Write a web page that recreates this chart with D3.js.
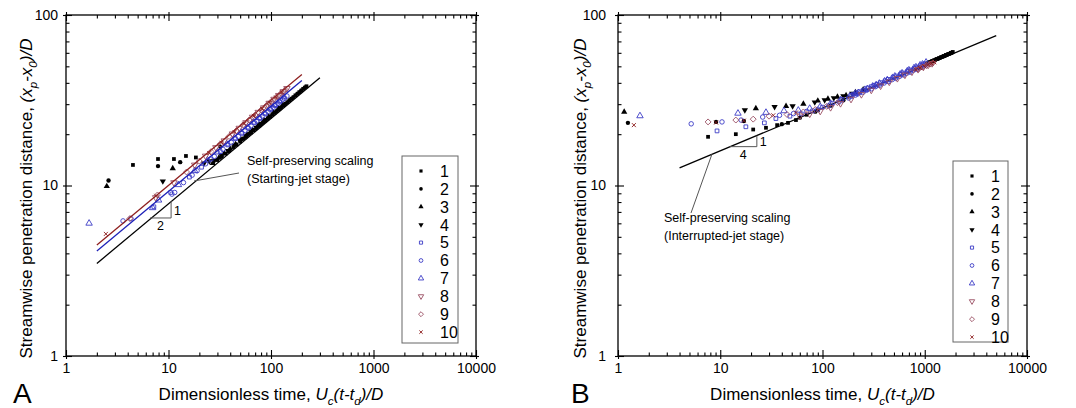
<!DOCTYPE html>
<html>
<head>
<meta charset="utf-8">
<script src="https://cdn.jsdelivr.net/npm/d3@7"></script>
<style>
  body{ margin:0; background:#fff; }
  svg{ display:block; }
  text{ font-family:"Liberation Sans", Arial, Helvetica, sans-serif; fill:#000; }
</style>
</head>
<body>
<svg id="chart" width="1076" height="408"></svg>
<script>
/* ---------- data ---------- */
const LEGEND_LABELS = ["1","2","3","4","5","6","7","8","9","10"];
const X_TICKS = [1, 10, 100, 1000, 10000];
const Y_TICKS = [1, 10, 100];

// Panel A (starting-jet stage) : [time, distance]
const A1 = [[4.5,13.2],[7.9,14.3],[11.3,14.3],[14.8,14.9],[18.5,14.6],[30,14.1],[36,15.4],[43,16.8],[50,18.1],[57,19.4],[64,20.5],[72,21.8],[80,23.0],[89,24.2],[98,25.4],[108,26.7],[119,28.0],[131,29.4],[144,30.8],[158,32.3],[173,33.8],[189,35.3],[206,36.9],[222,38.2]];
const A2 = [[2.6,10.7],[7.9,13.0],[13.0,13.7],[32,16.9],[33,14.8],[39,16.0],[46,17.4],[54,18.9],[61,20.1],[68,21.2],[76,22.4],[84,23.5],[93,24.8],[103,26.1],[113,27.3],[125,28.7],[137,30.1],[151,31.6],[165,33.0],[181,34.6],[197,36.1],[214,37.6]];
const A3 = [[2.5,9.9],[11.0,12.6],[27,13.5],[31,14.5],[35,15.4],[40,16.4],[45,17.4],[51,18.6],[58,19.8],[66,21.1],[75,22.5],[85,24.0],[95,25.3],[106,26.8],[118,28.2],[130,29.6]];
const A4 = [[8.8,10.6],[22.2,13.5],[25,13.9],[28,14.0],[33,15.0],[38,16.0],[44,17.2],[50,18.3],[57,19.5],[64,20.7],[72,21.9],[80,23.1],[89,24.3]];
const A5 = [[7.2,7.5],[10.5,9.1],[16,11.2],[21,12.8],[26,14.3],[32,15.8],[38,17.3],[45,18.8],[52,20.2],[60,21.7],[69,23.3],[78,24.7],[88,26.3],[99,27.9],[110,29.4],[122,30.9],[135,32.5]];
const A6 = [[3.6,6.2],[4.3,6.4],[10.8,8.9],[11.5,9.1],[14,10.4],[17,11.5],[19,12.2],[23,13.4],[28,14.8],[34,16.3],[41,17.9],[48,19.4],[56,21.0],[64,22.4],[73,23.9],[83,25.5],[94,27.2],[105,28.7],[117,30.3],[130,31.9],[143,33.5]];
const A7 = [[1.68,6.0],[7.0,7.4],[8.0,8.2],[12.5,10.1],[18,12.2],[24,14.1],[30,15.7],[37,17.5],[44,19.0],[51,20.5],[59,22.0],[67,23.5],[76,25.0],[86,26.6],[97,28.3],[108,29.8],[120,31.4],[133,33.1]];
const A8 = [[7.5,8.5],[11.3,10.4],[18,13.2],[23,14.9],[29,16.7],[35,18.3],[42,20.1],[49,21.7],[57,23.4],[66,25.2],[75,26.9],[85,28.6],[96,30.4],[107,32.1],[119,33.8],[132,35.6],[143,37.1]];
const A9 = [[4.2,6.4],[7.8,8.8],[15,12.0],[20,13.9],[26,15.8],[32,17.5],[39,19.4],[46,21.0],[53,22.6],[61,24.2],[70,25.9],[80,27.7],[90,29.4],[101,31.2],[113,33.0],[125,34.7],[138,36.4]];
const A10 = [[2.45,5.2],[7.6,8.7],[25,15.5],[33,17.8],[44,20.6],[55,23.0],[68,25.6],[82,28.1],[97,30.5],[112,32.8],[128,35.1]];
const A_FIT_BLACK = [[2,3.49],[300,42.8]];
const A_FIT_BLUE  = [[2,4.13],[200,41.3]];
const A_FIT_RED   = [[2,4.48],[200,44.8]];
const A_SLOPE = [[6.6,6.45],[10.6,6.45],[10.6,8.1]];

// Panel B (interrupted-jet stage)
const B1 = [[7.6,19.3],[14.2,20.0],[21,21.3],[28,21.8],[36,22.6],[46,23.3],[55,24.2],[70,26.0],[90,27.6],[1100,52.8],[1170,53.6],[1240,54.4],[1310,55.2],[1380,55.9],[1450,56.7],[1530,57.5],[1610,58.3],[1700,59.1],[1800,60.0],[1880,60.7]];
const B2 = [[1.25,23.3],[9.1,23.6],[17,23.9],[40,22.9],[60,25.0],[85,27.1],[120,29.4],[160,31.6],[1050,52.0],[1120,52.9],[1190,53.7],[1270,54.6],[1350,55.4],[1420,56.1],[1500,56.9],[1580,57.7],[1660,58.5],[1750,59.3],[1840,60.1]];
const B3 = [[1.15,27.0],[22.3,28.3],[44,29.2],[65,30.1],[90,31.4],[113,32.2],[140,33.1],[170,33.8],[210,35.2],[250,36.5]];
const B4 = [[17.4,27.7],[34,28.9],[51,29.2],[84,30.8],[105,31.7],[129,32.6],[160,33.5],[195,34.6]];
const B5 = [[9.3,20.9],[17.8,22.1],[27,23.3],[35,24.7],[48,25.5],[62,26.3],[80,27.4],[100,28.8],[125,30.4],[155,32.0],[190,33.8],[200,34.3],[215,34.9],[230,35.5],[250,36.2],[280,37.3],[300,38.0],[320,38.6],[340,39.2],[370,40.1],[410,41.1],[440,41.9],[490,43.0],[530,43.9],[580,44.9],[620,45.7],[680,46.8],[730,47.6],[790,48.6],[850,49.5],[910,50.5],[960,51.1],[1000,51.8]];
const B6 = [[5.2,23.0],[10.4,23.6],[16,24.2],[26,25.2],[38,25.8],[52,26.4],[70,27.2],[90,28.0],[115,29.3],[145,30.9],[180,32.6],[210,33.9],[220,34.4],[250,35.3],[270,36.2],[300,36.9],[330,38.0],[360,38.7],[400,39.9],[440,40.7],[480,41.8],[520,42.5],[570,43.7],[620,44.5],[670,45.6],[720,46.2],[780,47.5],[840,48.1],[900,49.3],[960,49.8],[1010,50.8]];
const B7 = [[1.64,25.6],[14.9,26.5],[28,26.8],[42,27.4],[58,27.6],[75,28.3],[95,29.0],[120,30.2],[150,31.7],[185,33.3],[210,34.7],[225,35.0],[260,36.5],[275,36.9],[310,38.2],[335,38.9],[360,39.7],[405,40.9],[430,41.6],[485,42.9],[510,43.7],[575,44.9],[600,45.6],[675,46.9],[700,47.5],[785,48.9],[820,49.5],[900,50.8],[950,51.4],[1030,52.8]];
const B8 = [[60,25.6],[75,26.3],[95,27.3],[120,28.7],[150,30.3],[190,32.1],[240,34.2],[300,36.3],[370,38.4],[450,40.5],[540,42.5],[640,44.5],[750,46.4],[860,48.0],[970,49.5],[1080,50.9],[1180,52.0]];
const B9 = [[7.6,23.6],[14.2,24.2],[21,24.5],[30,25.5],[45,26.1],[65,27.0],[85,27.9],[110,29.1],[140,30.6],[880,48.5],[960,49.6],[1040,50.6],[1120,51.5],[1200,52.4]];
const B10 = [[1.43,22.6],[9.1,23.4],[17,24.0],[33,25.8],[55,26.8],[820,47.8],[900,48.9],[990,50.0],[1080,51.1],[1160,52.0],[1240,52.8]];
const B_FIT_BLACK = [[4,12.7],[5000,75.7]];
const B_SLOPE = [[12.4,16.9],[22.8,16.9],[22.8,19.6]];

/* ---------- styles ---------- */
const BLUE = "#3c3cc6", MAUVE = "#9a4e62", DARKRED = "#8b1a1a";
const symTimes = { draw(ctx, size){ const r = Math.sqrt(size)/2;
  ctx.moveTo(-r,-r); ctx.lineTo(r,r); ctx.moveTo(r,-r); ctx.lineTo(-r,r); } };
const symDiamond = { draw(ctx, size){ const r = Math.sqrt(size/2)*1.05;
  ctx.moveTo(0,-r); ctx.lineTo(r,0); ctx.lineTo(0,r); ctx.lineTo(-r,0); ctx.closePath(); } };
const STYLE = [
  { type:d3.symbolSquare,   size:14, fill:"#000", stroke:"none" },
  { type:d3.symbolCircle,   size:15, fill:"#000", stroke:"none" },
  { type:d3.symbolTriangle, size:17, fill:"#000", stroke:"none" },
  { type:d3.symbolTriangle, size:17, fill:"#000", stroke:"none", rot:180 },
  { type:d3.symbolSquare,   size:14, fill:"none", stroke:BLUE },
  { type:d3.symbolCircle,   size:16, fill:"none", stroke:BLUE },
  { type:d3.symbolTriangle, size:18, fill:"none", stroke:BLUE },
  { type:d3.symbolTriangle, size:18, fill:"none", stroke:MAUVE, rot:180 },
  { type:symDiamond,        size:16, fill:"none", stroke:MAUVE },
  { type:symTimes,          size:16, fill:"none", stroke:DARKRED }
];

const PANELS = [
  { letter:"A", left:66, top:15, w:410, h:341, labelGap:8, titleX:32, letterX:13,
    series:[A1,A2,A3,A4,A5,A6,A7,A8,A9,A10],
    fits:[{d:A_FIT_BLACK,c:"#000"},{d:A_FIT_BLUE,c:"#1f22b8"},{d:A_FIT_RED,c:"#8e1f1f"}],
    linesOnTop:true, slope:A_SLOPE, slopeLabels:["1","2"],
    note:{ x:181, y:150, lead:[[128,166],[173,158]], lines:["Self-preserving scaling","(Starting-jet stage)"] },
    legend:{ x:336, y:141, w:56, h:187 } },
  { letter:"B", left:618, top:15, w:409, h:341, labelGap:12, titleX:586, letterX:571,
    series:[B1,B2,B3,B4,B5,B6,B7,B8,B9,B10],
    fits:[{d:B_FIT_BLACK,c:"#000"}],
    linesOnTop:false, slope:B_SLOPE, slopeLabels:["1","4"],
    note:{ x:46, y:207, lead:[[94,139],[73,198]], lines:["Self-preserving scaling","(Interrupted-jet stage)"] },
    legend:{ x:335, y:146, w:55, h:181 } }
];

const svg = d3.select("#chart");

function mathText(sel, parts, size){
  parts.forEach(p => {
    const t = sel.append("tspan").text(p.t);
    if(p.it) t.attr("font-style","italic");
    if(p.sub) t.attr("font-size", size*0.68).attr("dy", size*0.28);
    if(p.up) t.attr("dy", -size*0.28);
  });
}

function drawMarker(g, st, x, y, scale=1){
  g.append("path")
    .attr("d", d3.symbol().type(st.type).size(st.size*scale)())
    .attr("transform", `translate(${x},${y})` + (st.rot ? ` rotate(${st.rot})` : ""))
    .attr("fill", st.fill).attr("stroke", st.stroke).attr("stroke-width", st.stroke==="none"?0:0.9);
}

PANELS.forEach(P => {
  const x = d3.scaleLog().domain([1,10000]).range([0,P.w]);
  const y = d3.scaleLog().domain([1,100]).range([P.h,0]);
  const g = svg.append("g").attr("transform",`translate(${P.left},${P.top})`);

  const minorX = [], minorY = [];
  for(let d=1; d<10000; d*=10) for(let k=2;k<10;k++) minorX.push(d*k);
  for(let d=1; d<100; d*=10) for(let k=2;k<10;k++) minorY.push(d*k);

  const axes = g.append("g");
  const styleAxis = a => { a.select(".domain").remove(); a.selectAll("line").attr("stroke","#000").attr("stroke-width",1.1); };

  // bottom
  axes.append("g").attr("transform",`translate(0,${P.h})`)
    .call(d3.axisBottom(x).tickValues(X_TICKS).tickFormat(d3.format("d")).tickSizeInner(-6).tickSizeOuter(0).tickPadding(7))
    .call(styleAxis)
    .call(a => a.selectAll("text").attr("font-size",14).attr("font-family",null));
  axes.append("g").attr("transform",`translate(0,${P.h})`)
    .call(d3.axisBottom(x).tickValues(X_TICKS).tickFormat("").tickSize(3)).call(styleAxis);
  axes.append("g").attr("transform",`translate(0,${P.h})`)
    .call(d3.axisBottom(x).tickValues(minorX).tickFormat("").tickSize(-3.5)).call(styleAxis);
  // top
  axes.append("g").call(d3.axisTop(x).tickValues(X_TICKS).tickFormat("").tickSizeInner(-6).tickSizeOuter(0)).call(styleAxis);
  axes.append("g").call(d3.axisTop(x).tickValues(X_TICKS).tickFormat("").tickSize(3)).call(styleAxis);
  axes.append("g").call(d3.axisTop(x).tickValues(minorX).tickFormat("").tickSize(-3.5)).call(styleAxis);
  // left
  axes.append("g")
    .call(d3.axisLeft(y).tickValues(Y_TICKS).tickFormat(d3.format("d")).tickSizeInner(-6).tickSizeOuter(0).tickPadding(P.labelGap))
    .call(styleAxis)
    .call(a => a.selectAll("text").attr("font-size",14).attr("font-family",null));
  axes.append("g").call(d3.axisLeft(y).tickValues(Y_TICKS).tickFormat("").tickSize(3)).call(styleAxis);
  axes.append("g").call(d3.axisLeft(y).tickValues(minorY).tickFormat("").tickSize(-3.5)).call(styleAxis);
  // right
  axes.append("g").attr("transform",`translate(${P.w},0)`)
    .call(d3.axisRight(y).tickValues(Y_TICKS).tickFormat("").tickSizeInner(-6).tickSizeOuter(0)).call(styleAxis);
  axes.append("g").attr("transform",`translate(${P.w},0)`)
    .call(d3.axisRight(y).tickValues(Y_TICKS).tickFormat("").tickSize(3)).call(styleAxis);
  axes.append("g").attr("transform",`translate(${P.w},0)`)
    .call(d3.axisRight(y).tickValues(minorY).tickFormat("").tickSize(-3.5)).call(styleAxis);

  g.append("rect").attr("width",P.w).attr("height",P.h)
    .attr("fill","none").attr("stroke","#000").attr("stroke-width",1.3);

  const line = d3.line().x(d => x(d[0])).y(d => y(d[1]));
  const drawFits = () => P.fits.forEach(f => {
    g.append("path").attr("d", line(f.d)).attr("fill","none")
      .attr("stroke", f.c).attr("stroke-width", 1.3);
  });

  if(!P.linesOnTop) drawFits();
  const pts = g.append("g");
  P.series.forEach((s, i) => s.forEach(d => drawMarker(pts, STYLE[i], x(d[0]), y(d[1]))));
  if(P.linesOnTop) drawFits();

  // slope triangle
  const s = P.slope;
  g.append("path").attr("d", line(s)).attr("fill","none").attr("stroke","#555").attr("stroke-width",1);
  g.append("text").attr("x", x(s[1][0])+3).attr("y", (y(s[1][1])+y(s[2][1]))/2+5)
    .attr("font-size",12.5).text(P.slopeLabels[0]);
  g.append("text").attr("x", (x(s[0][0])+x(s[1][0]))/2).attr("y", y(s[0][1])+12.5)
    .attr("font-size",12.5).attr("text-anchor","middle").text(P.slopeLabels[1]);

  // annotation
  const n = P.note;
  g.append("line").attr("x1",n.lead[0][0]).attr("y1",n.lead[0][1]).attr("x2",n.lead[1][0]).attr("y2",n.lead[1][1])
    .attr("stroke","#555").attr("stroke-width",1);
  n.lines.forEach((t,i) => g.append("text").attr("x",n.x).attr("y",n.y+i*17.5).attr("font-size",12.5).text(t));

  // legend
  const L = P.legend;
  const lg = g.append("g").attr("transform",`translate(${L.x},${L.y})`);
  lg.append("rect").attr("width",L.w).attr("height",L.h).attr("fill","#fff").attr("stroke","#666").attr("stroke-width",1);
  LEGEND_LABELS.forEach((lab,i) => {
    const yy = 15 + i*17.9;
    drawMarker(lg, STYLE[i], 19, yy, 0.7);
    lg.append("text").attr("x",38).attr("y",yy+5.8).attr("font-size",16).text(lab);
  });

  // axis titles
  const xt = svg.append("text").attr("x", P.left + P.w/2).attr("y", 400)
    .attr("text-anchor","middle").attr("font-size",17);
  mathText(xt, [{t:"Dimensionless time, "},{t:"U",it:true},{t:"c",it:true,sub:true},{t:"(t-t",it:true,up:true},
    {t:"d",it:true,sub:true},{t:")/D",it:true,up:true}], 17);

  const yt = svg.append("text").attr("transform",`translate(${P.titleX},${P.top+P.h/2+13}) rotate(-90)`)
    .attr("text-anchor","middle").attr("font-size",17);
  mathText(yt, [{t:"Streamwise penetration distance, "},{t:"(x",it:true},{t:"p",it:true,sub:true},{t:"-x",it:true,up:true},
    {t:"0",it:true,sub:true},{t:")/D",it:true,up:true}], 17);

  svg.append("text").attr("x", P.letterX).attr("y", 403).attr("font-size",28).text(P.letter);
});
</script>
</body>
</html>
